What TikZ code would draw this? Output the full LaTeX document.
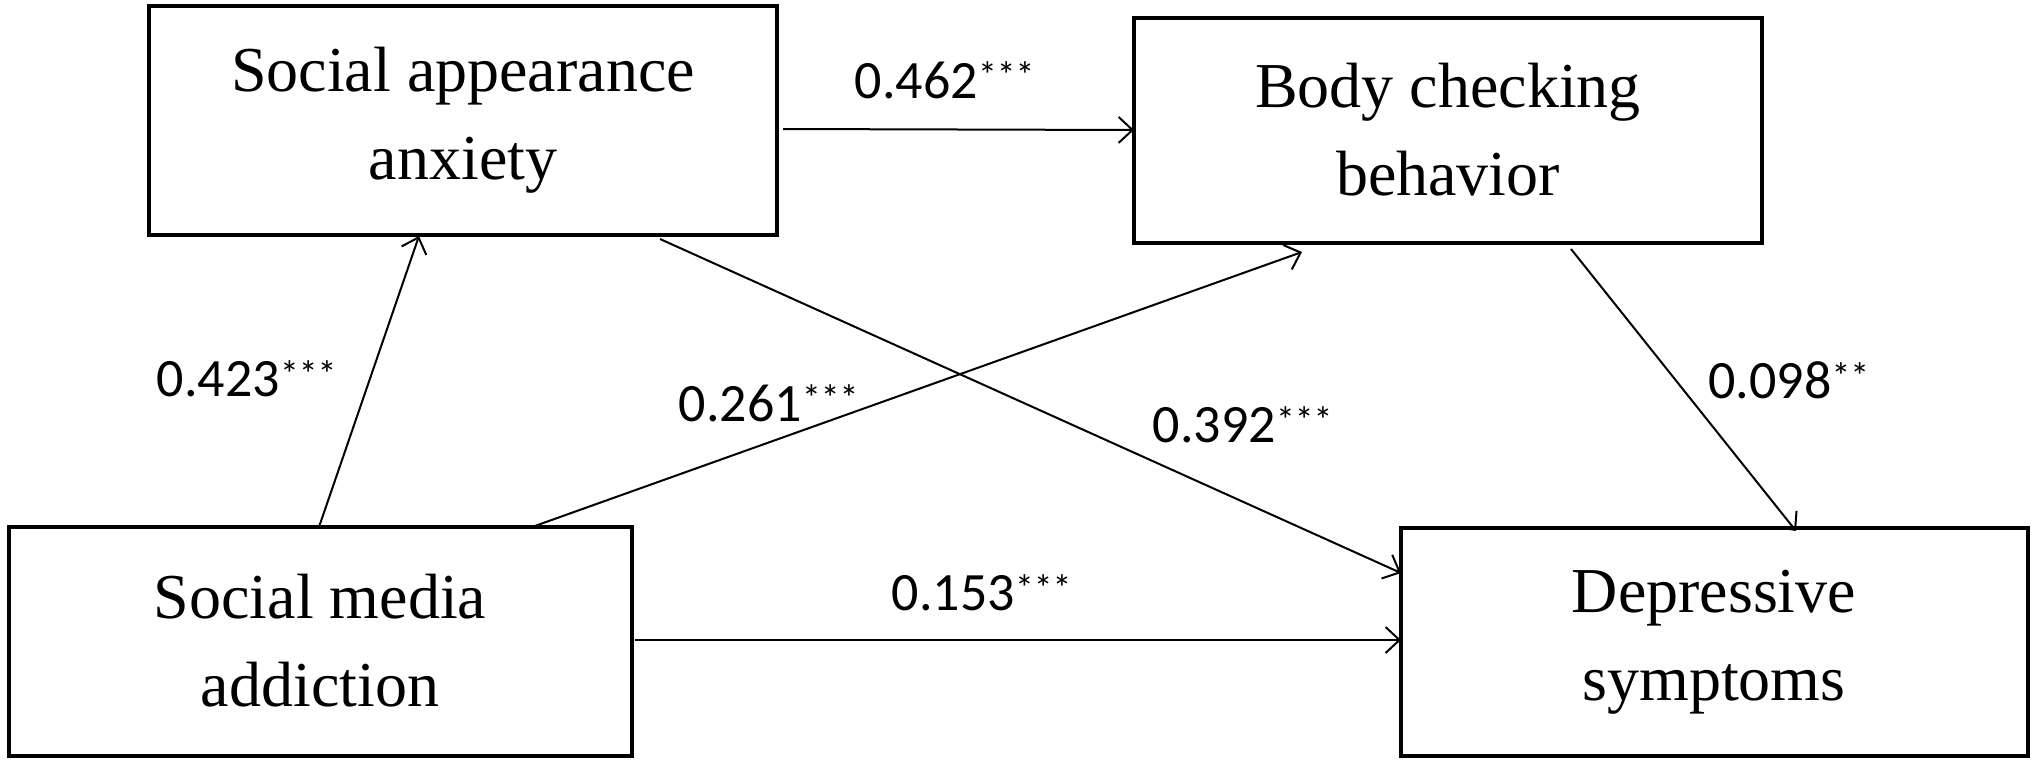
\documentclass[tikz,border=0pt]{standalone}
\usepackage{fontspec}
\setmainfont{Liberation Serif}
\newfontfamily\labfont{Carlito}
\usetikzlibrary{arrows.meta}
\begin{document}
\begin{tikzpicture}[x=1pt,y=-1pt,
  box/.style={draw,line width=4pt,rectangle,align=center,font=\fontsize{64}{88}\selectfont},
  conn/.style={line width=2pt,-{Straight Barb[length=14pt,width=26pt,line width=2pt]}},
  lab/.style={font=\labfont\fontsize{54}{60}\selectfont}]
\useasboundingbox (0,0) rectangle (2036,763);
\fill[white] (0,0) rectangle (2036,763);
\node[box,minimum width=628pt,minimum height=229pt] (saa) at (463,120) {Social appearance\\anxiety};
\node[box,minimum width=628pt,minimum height=225pt] (bcb) at (1448,130) {Body checking\\behavior};
\node[box,minimum width=623pt,minimum height=229pt] (sm) at (320,641) {Social media\\addiction};
\node[box,minimum width=627pt,minimum height=228pt] (dep) at (1714,642) {Depressive\\symptoms};
\coordinate (a1) at (783,129); \coordinate (a2) at (1134,130);
\coordinate (b1) at (319,527); \coordinate (b2) at (419,236);
\coordinate (c1) at (532,527); \coordinate (c2) at (1302,252);
\coordinate (d1) at (660,239); \coordinate (d2) at (1401,573);
\coordinate (e1) at (1571,249); \coordinate (e2) at (1796,531);
\coordinate (f1) at (635,640); \coordinate (f2) at (1401,640);
\draw[conn] (a1) -- (a2);
\draw[conn] (b1) -- (b2);
\draw[conn] (c1) -- (c2);
\draw[conn] (d1) -- (d2);
\draw[conn] (e1) -- (e2);
\draw[conn] (f1) -- (f2);
\node[lab] (l1) at (945,80) {0.462\textsuperscript{***}};
\node[lab] (l2) at (247,379) {0.423\textsuperscript{***}};
\node[lab] (l3) at (769,403) {0.261\textsuperscript{***}};
\node[lab] (l4) at (1243,425) {0.392\textsuperscript{***}};
\node[lab] (l5) at (1789,380) {0.098\textsuperscript{**}};
\node[lab] (l6) at (982,593) {0.153\textsuperscript{***}};
\end{tikzpicture}
\end{document}
